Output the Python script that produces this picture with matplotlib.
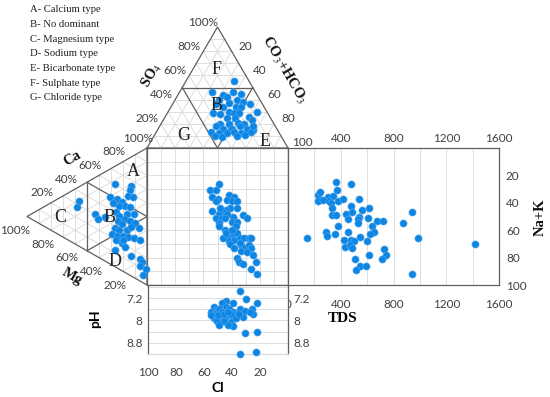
import numpy as np
import matplotlib.pyplot as plt
from matplotlib.ticker import MultipleLocator, FixedLocator

plt.rcParams['font.family'] = ['Lato', 'DejaVu Sans']
plt.rcParams['mathtext.fontset'] = 'stix'

SERIF = ['Liberation Serif', 'DejaVu Serif']
DOT = '#0d86e3'
DOT_EDGE = '#5aaaf0'
DARK = '#5f5f5f'
GRID = '#d9d9d9'

# ---- data ----
# anion triangle: SO4 %, HCO3+CO3 %  (Cl = rest)
an_so4 = [55, 46, 44, 46, 45, 42, 40, 38, 40, 37, 36, 34, 34, 34, 36, 30, 29, 28, 30, 29,
          29, 26, 25, 25, 20, 20, 21, 20, 23, 18, 16, 16, 18, 16, 15, 13, 12, 12, 13, 12,
          13, 9, 10, 11, 10, 18]
an_hco3 = [34, 23, 32, 38, 44, 36, 44, 49, 31, 40, 31, 37, 46, 50, 55, 63, 32, 38, 43, 47,
           51, 59, 44, 50, 42, 48, 54, 59, 63, 40, 46, 52, 57, 63, 68, 39, 45, 51, 55, 61,
           67, 49, 59, 64, 43, 66]

# cation triangle: Mg %, Na+K %  (Ca = rest)
cat_mg = [57, 58, 13, 27, 14, 16, 12, 31, 25, 21, 28, 18, 23, 14, 43, 41, 35, 26, 23, 17,
          11, 18, 14, 10, 24, 21, 27, 23, 17, 13, 7, 29, 25, 20, 16, 11, 6, 26, 21, 18,
          13, 6, 4, 6, 1, 3, 27, 20]
cat_na = [10, 14, 21, 13, 24, 27, 30, 20, 25, 29, 26, 33, 31, 36, 27, 31, 33, 34, 38, 40,
          43, 43, 46, 50, 41, 45, 45, 48, 51, 51, 55, 48, 52, 54, 57, 60, 64, 54, 59, 63,
          72, 78, 81, 83, 88, 91, 61, 57]

# central square: Cl %, Na+K %
sq_cl = [49, 55, 51, 54, 50, 51, 42, 43, 38, 40, 36, 41, 36, 44, 46, 54, 49, 51, 43, 47,
         49, 49, 39, 40, 36, 37, 32, 29, 45, 40, 36, 43, 46, 42, 38, 34, 31, 28, 26, 41,
         38, 33, 31, 28, 26, 33, 36, 25, 23, 35, 32, 26, 22, 44, 40, 34, 29, 48, 45]
sq_nak = [26, 31, 31, 36, 37, 39, 34, 38, 36, 39, 39, 44, 44, 45, 47, 46, 48, 51, 48, 51,
          55, 57, 50, 54, 54, 57, 49, 51, 60, 63, 62, 64, 66, 68, 67, 66, 66, 66, 66, 70,
          73, 71, 73, 71, 73, 75, 80, 78, 83, 83, 85, 88, 92, 62, 60, 69, 76, 44, 51]

# right panel: TDS, Na+K %
tds = [361, 475, 230, 245, 306, 344, 369, 225, 265, 313, 326, 382, 420, 538, 331, 478,
       559, 614, 336, 361, 437, 488, 538, 452, 533, 604, 528, 635, 675, 723, 943, 872,
       377, 286, 296, 356, 457, 650, 620, 548, 142, 422, 478, 503, 432, 470, 483, 599,
       983, 1418, 728, 743, 614, 715, 508, 548, 589, 513, 943]
tds_nak = [25, 26, 34, 32, 36, 35, 31, 39, 38, 39, 40, 39, 37, 37, 44, 42, 45, 44, 49, 49,
           48, 47, 50, 52, 52, 51, 55, 57, 53, 53, 47, 55, 57, 61, 64, 63, 61, 61, 63, 65,
           66, 67, 67, 68, 72, 71, 73, 68, 66, 70, 74, 78, 78, 81, 81, 86, 86, 89, 92]

# bottom panel: Cl %, pH
ph_cl = [34, 30, 22, 39, 44, 47, 44, 53, 51, 55, 52, 49, 47, 42, 39, 37, 34, 31, 26, 25,
         27, 32, 39, 43, 45, 49, 53, 51, 46, 41, 39, 43, 49, 31, 22, 34, 23, 55, 50, 46,
         41, 37, 43, 35]
ph_val = [6.93, 7.22, 7.36, 7.36, 7.29, 7.38, 7.53, 7.50, 7.62, 7.68, 7.77, 7.58, 7.70,
          7.58, 7.68, 7.77, 7.58, 7.65, 7.58, 7.77, 7.68, 7.89, 7.89, 7.82, 7.91, 7.89,
          7.91, 8.03, 8.03, 8.05, 8.21, 8.15, 8.17, 8.45, 8.42, 9.19, 9.14, 7.79, 7.79,
          7.77, 7.77, 7.91, 7.68, 7.77]

legend_lines = ["A- Calcium type", "B- No dominant", "C- Magnesium type", "D- Sodium type",
                "E- Bicarbonate type", "F- Sulphate type", "G- Chloride type"]

# ---- layout (pixels) ----
W, H = 550, 397
SQ_L, SQ_R, SQ_T, SQ_B = 147, 288, 148, 285
AN_APEX = (217.5, 27)       # SO4 100%
CAT_APEX = (27, 216.5)      # Mg 100%
TDS_R = 499
PH_B = 354
DOT_KW = dict(s=27, color=DOT, edgecolors=DOT_EDGE, linewidths=0.4)

fig = plt.figure(figsize=(W / 100, H / 100), dpi=100)


def panel(x0, y0, x1, y1):
    return fig.add_axes([x0 / W, 1 - y1 / H, (x1 - x0) / W, (y1 - y0) / H])


def anion_xy(so4, hco3):
    s = np.asarray(so4, float) / 100
    h = np.asarray(hco3, float) / 100
    c = 1 - s - h
    x = c * SQ_L + h * SQ_R + s * AN_APEX[0]
    y = c * SQ_T + h * SQ_T + s * AN_APEX[1]
    return x, y


def cation_xy(mg, na):
    m = np.asarray(mg, float) / 100
    n = np.asarray(na, float) / 100
    c = 1 - m - n
    x = c * SQ_L + n * SQ_L + m * CAT_APEX[0]
    y = c * SQ_T + n * SQ_B + m * CAT_APEX[1]
    return x, y


def style_spines(a, color=DARK):
    for s in a.spines.values():
        s.set_color(color)
        s.set_linewidth(0.9)


# central square
sq = panel(SQ_L, SQ_T, SQ_R, SQ_B)
sq.set_facecolor('none')
sq.set_xlim(100, 0)
sq.set_ylim(100, 0)
sq.set_xticks(range(0, 101, 10))
sq.set_yticks(range(0, 101, 10))
sq.grid(color=GRID, lw=0.6)
sq.set_axisbelow(True)
sq.tick_params(length=0, labelbottom=False, labelleft=False)
style_spines(sq)
sq.scatter(sq_cl, sq_nak, zorder=3, clip_on=False, **DOT_KW)

# TDS panel
td = panel(SQ_R, SQ_T, TDS_R, SQ_B)
td.set_xlim(0, 1600)
td.set_ylim(100, 0)
td.set_xticks([0, 400, 800, 1200, 1600])
td.xaxis.set_minor_locator(MultipleLocator(200))
td.grid(axis='x', which='both', color=GRID, lw=0.6)
td.set_axisbelow(True)
td.set_yticks([20, 40, 60, 80, 100])
td.yaxis.tick_right()
td.tick_params(which='both', length=0, labelsize=8.5, colors='#404040')
td.tick_params(axis='x', pad=10)
td.tick_params(axis='y', pad=5)
sec = td.secondary_xaxis('top')
sec.set_xticks([400, 800, 1200, 1600])
sec.tick_params(length=0, labelsize=8.5, colors='#404040', pad=3)
sec.spines['top'].set_visible(False)
style_spines(td)
td.scatter(tds, tds_nak, zorder=3, clip_on=False, **DOT_KW)

# pH panel
pa = panel(SQ_L + 1, SQ_B, SQ_R, PH_B)
pa.set_xlim(100, 0)
pa.set_ylim(9.2, 6.73)
pa.set_xticks([100, 80, 60, 40, 20])
pa.set_yticks([7.2, 8.0, 8.8])
pa.set_yticklabels(['7.2', '8', '8.8'])
pa.yaxis.set_minor_locator(FixedLocator([6.8, 7.6, 8.4, 9.2]))
pa.grid(axis='y', which='both', color=GRID, lw=0.6)
pa.set_axisbelow(True)
pa.tick_params(which='both', length=0, labelsize=8.5, colors='#404040')
pa.tick_params(axis='y', labelright=True, pad=4)
pa.tick_params(axis='x', pad=9)
style_spines(pa)
pa.spines['bottom'].set_color(GRID)
pa.scatter(ph_cl, ph_val, zorder=3, clip_on=False, **DOT_KW)

# overlay for triangles and texts (pixel coordinates)
ax = fig.add_axes([0, 0, 1, 1])
ax.set_xlim(0, W)
ax.set_ylim(H, 0)
ax.axis('off')

for p in range(10, 100, 10):
    col = DARK if p == 50 else GRID
    lw = 0.9 if p == 50 else 0.6
    z = 2 if p == 50 else 1
    # anion grid
    for a, b in [((p, 0), (p, 100 - p)), ((0, p), (100 - p, p)), ((0, 100 - p), (100 - p, 0))]:
        xs, ys = anion_xy([a[0], b[0]], [a[1], b[1]])
        ax.plot(xs, ys, color=col, lw=lw, zorder=z)
    # cation grid
    for a, b in [((0, p), (100 - p, p)), ((p, 0), (p, 100 - p)), ((0, 100 - p), (100 - p, 0))]:
        xs, ys = cation_xy([a[0], b[0]], [a[1], b[1]])
        ax.plot(xs, ys, color=col, lw=lw, zorder=z)

xs, ys = anion_xy([0, 100, 0, 0], [0, 0, 100, 0])
ax.plot(xs, ys, color=DARK, lw=0.9, zorder=2)
xs, ys = cation_xy([0, 100, 0, 0], [0, 0, 100, 0])
ax.plot(xs, ys, color=DARK, lw=0.9, zorder=2)

# tick labels on triangle sides
tk = dict(fontsize=8.5, color='#404040', ha='center', va='center')
for p in range(20, 101, 20):
    x, y = anion_xy(p, 0)
    ax.text(x - 14, y - 5, f'{p}%', **tk)
    x, y = anion_xy(100 - p, p)
    ax.text(x + 14, y - 5, f'{p}', **tk)
    x, y = cation_xy(100 - p, 0)
    ax.text(x - 9, y - 10, f'{p}%', **tk)
    x, y = cation_xy(p, 100 - p)
    ax.text(x - (12 if p == 100 else 8), y + 14, f'{p}%', **tk)

# points in triangles
xs, ys = anion_xy(an_so4, an_hco3)
ax.scatter(xs, ys, zorder=4, **DOT_KW)
xs, ys = cation_xy(cat_mg, cat_na)
ax.scatter(xs, ys, zorder=4, **DOT_KW)

# region letters (drawn over the points)
lt = dict(fontsize=13, family=SERIF, ha='center', va='center', color='#222222', zorder=5)
for t, x, y in [('F', 217, 69), ('B', 217, 106), ('G', 184, 135), ('E', 265, 142),
                ('A', 133, 172), ('B', 110, 218), ('C', 60, 217), ('D', 115, 262)]:
    ax.text(x, y, t, **lt)

# axis titles
tt = dict(fontsize=10.5, family=SERIF, fontweight='bold', ha='center', va='center', color='#111111')
ax.text(152, 75, r'SO$_4$', rotation=60, **tt)
ax.text(284, 70, r'CO$_3$+HCO$_3$', rotation=-60, **tt)
ax.text(72, 158, 'Ca', rotation=30, **tt)
ax.text(72, 277, 'Mg', rotation=-30, **tt)
ax.text(540, 217, 'Na+K', rotation=90, **tt)
ax.text(343, 318, 'TDS', fontsize=11, family=SERIF, fontweight='bold', ha='center', va='center')
ax.text(95, 319, 'pH', rotation=90, fontsize=10, fontweight='bold', ha='center', va='center')
ax.text(218, 388, 'Cl', fontsize=10, fontweight='bold', ha='center', va='center')

# legend text
for i, s in enumerate(legend_lines):
    ax.text(30, 10 + i * 14.6, s, fontsize=7.7, family=SERIF, ha='left', va='center', color='#222222')

fig.savefig('out.png', dpi=100)
